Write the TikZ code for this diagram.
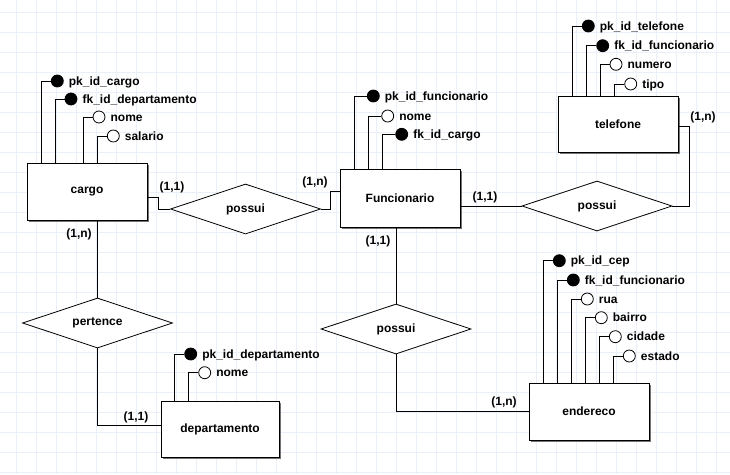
\documentclass[tikz,border=0pt]{standalone}
\usepackage{fontspec}
\setmainfont{Liberation Sans}
\usetikzlibrary{shapes.geometric,shadows,calc}
\definecolor{gridc}{RGB}{234,240,247}
\begin{document}
\begin{tikzpicture}[x=1pt,y=-1pt,
  font=\fontsize{12}{14}\selectfont\bfseries,
  entity/.style={draw, line width=1pt, fill=white, minimum width=120pt, minimum height=57pt, inner sep=0pt,
    drop shadow={shadow xshift=1.8pt, shadow yshift=-1.8pt, fill=black!55, opacity=1}},
  rel/.style={diamond, draw, line width=0.8pt, fill=white, minimum width=150pt, minimum height=50pt, aspect=3, inner sep=0pt},
  conn/.style={line width=0.9pt},
  attc/.style={circle, draw, minimum size=12pt, inner sep=0pt, line width=0.8pt},
  lbl/.style={anchor=base west, inner sep=0pt},
  card/.style={inner sep=0pt}]
\useasboundingbox (0,0) rectangle (730,474);
\fill[white] (0,0) rectangle (730,474);
% grid
\foreach \gx in {16.5,36.5,...,730} \draw[gridc, line width=0.9pt] (\gx,0) -- (\gx,474);
\foreach \gy in {12.5,32.5,...,474} \draw[gridc, line width=0.9pt] (0,\gy) -- (730,\gy);

% entities
\node[entity] (cargo) at (87,191.5) {cargo};
\node[entity, minimum height=58pt] (func) at (400,198) {Funcionario};
\node[entity, minimum height=56pt] (tel) at (618,124) {telefone};
\node[entity, minimum width=118pt, minimum height=56pt] (dep) at (220,429) {departamento};
\node[entity] (endr) at (589,411.5) {endereco};

% relationships
\node[rel] (p1) at (245.5,209) {possui};
\node[rel] (p2) at (597,206) {possui};
\node[rel] (pert) at (97.5,323) {pertence};
\node[rel] (p3) at (396,329) {possui};

% connectors
\draw[conn] ($(cargo.east)+(0,5.5)$) -- ++(11,0) |- (p1.west);
\draw[conn] (p1.east) -- ++(10,0) |- ($(func.west)+(0,-7)$);
\draw[conn] (func.east |- p2.west) -- (p2.west);
\draw[conn] (p2.east) -- ++(17,0) |- ($(tel.east)+(0,2)$);
\draw[conn] (pert.north |- cargo.south) -- (pert.north);
\draw[conn] (pert.south) |- ($(dep.west)+(0,-4)$);
\draw[conn] (p3.north |- func.south) -- (p3.north);
\draw[conn] (p3.south) |- (endr.west);

% cardinalities
\node[card] (c1) at (172,187) {(1,1)};
\node[card] (c2) at (315,182) {(1,n)};
\node[card] (c3) at (485,197) {(1,1)};
\node[card] (c4) at (703,117) {(1,n)};
\node[card] (c5) at (79,234) {(1,n)};
\node[card] (c6) at (136,417) {(1,1)};
\node[card] (c7) at (378,241) {(1,1)};
\node[card] (c8) at (504,402) {(1,n)};

% attributes
\foreach \lx/\cx/\ly/\st/\tx [count=\i] in {
  41.7/57.3/81/black/pk\_id\_cargo,
  55.7/71/99/black/fk\_id\_departamento,
  83.3/99/117/white/nome,
  97.3/113.3/136/white/salario} {
  \node[attc, fill=\st] (cargo-a\i) at (\cx,\ly) {};
  \node[lbl] (cargo-t\i) at ([shift={(5,4)}]cargo-a\i.east) {\tx};
  \draw[conn] (\lx,0 |- cargo.north) |- (cargo-a\i.west);
}
\foreach \lx/\cx/\ly/\st/\tx [count=\i] in {
  354.3/373.3/96/black/pk\_id\_funcionario,
  368.7/387.7/116/white/nome,
  382.7/401.7/134.3/black/fk\_id\_cargo} {
  \node[attc, fill=\st] (func-a\i) at (\cx,\ly) {};
  \node[lbl] (func-t\i) at ([shift={(5,4)}]func-a\i.east) {\tx};
  \draw[conn] (\lx,0 |- func.north) |- (func-a\i.west);
}
\foreach \lx/\cx/\ly/\st/\tx [count=\i] in {
  572.7/588.3/26/black/pk\_id\_telefone,
  586.7/602.7/45.7/black/fk\_id\_funcionario,
  600.7/616/64.3/white/numero,
  614.7/630.7/84/white/tipo} {
  \node[attc, fill=\st] (tel-a\i) at (\cx,\ly) {};
  \node[lbl] (tel-t\i) at ([shift={(5,4)}]tel-a\i.east) {\tx};
  \draw[conn] (\lx,0 |- tel.north) |- (tel-a\i.west);
}
\foreach \lx/\cx/\ly/\st/\tx [count=\i] in {
  174.3/190.7/354/black/pk\_id\_departamento,
  188.7/204.7/372.7/white/nome} {
  \node[attc, fill=\st] (dep-a\i) at (\cx,\ly) {};
  \node[lbl] (dep-t\i) at ([shift={(5,4)}]dep-a\i.east) {\tx};
  \draw[conn] (\lx,0 |- dep.north) |- (dep-a\i.west);
}
\foreach \lx/\cx/\ly/\st/\tx [count=\i] in {
  543.7/559.3/260.7/black/pk\_id\_cep,
  557.7/573.3/280/black/fk\_id\_funcionario,
  571.7/587.3/299/white/rua,
  585.7/601.3/317.7/white/bairro,
  599.7/615.3/336.7/white/cidade,
  613.7/629.3/356/white/estado} {
  \node[attc, fill=\st] (endr-a\i) at (\cx,\ly) {};
  \node[lbl] (endr-t\i) at ([shift={(5,4)}]endr-a\i.east) {\tx};
  \draw[conn] (\lx,0 |- endr.north) |- (endr-a\i.west);
}
\end{tikzpicture}
\end{document}
